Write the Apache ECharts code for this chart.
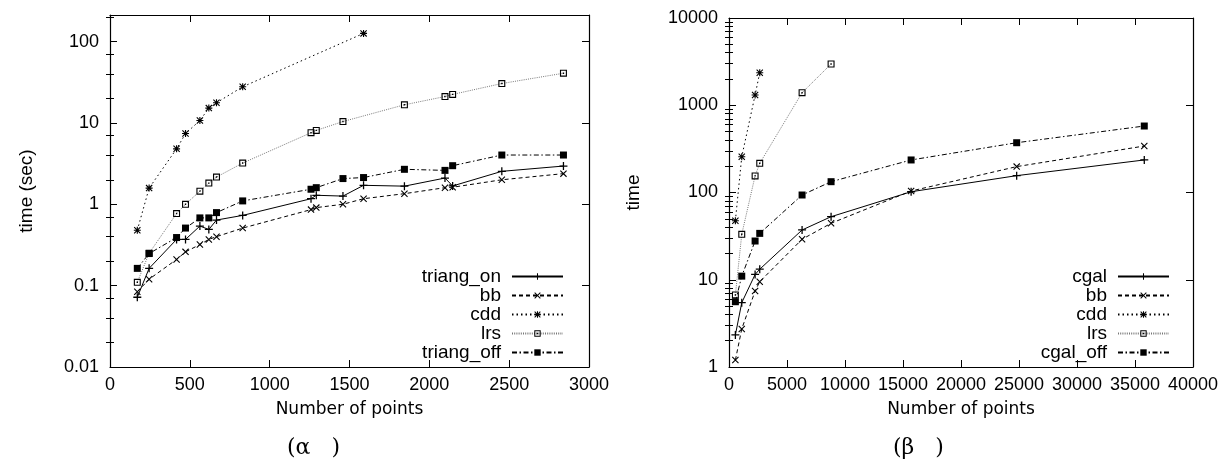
<!DOCTYPE html>
<html><head><meta charset="utf-8">
<script src="https://cdn.jsdelivr.net/npm/echarts@6/dist/echarts.min.js"></script>
<style>html,body{margin:0;padding:0;background:#fff}#c{width:1230px;height:473px}</style>
</head><body><div id="c"></div>
<script>
// ---------- data: chart (a) ----------
const xA = [171,245,417,473,563,619,667,831,1259,1292,1459,1588,1844,2098,2146,2454,2840];
const triangOnA = [0.072,0.163,0.37,0.37,0.54,0.49,0.64,0.73,1.17,1.29,1.26,1.71,1.67,2.10,1.68,2.54,2.95];
const bbA = [0.084,0.12,0.21,0.26,0.32,0.37,0.40,0.51,0.86,0.91,1.0,1.17,1.35,1.60,1.62,2.0,2.38];
const triangOffA = [0.163,0.248,0.39,0.51,0.68,0.68,0.79,1.10,1.53,1.60,2.07,2.13,2.69,2.61,2.98,4.03,4.03];
const xCddA = [171,245,417,473,563,619,667,831,1588];
const cddA = [0.48,1.58,4.8,7.4,10.7,15.2,17.7,27.8,126];
const xLrsA = [171,245,417,473,563,619,667,831,1259,1292,1459,1844,2098,2146,2454,2840];
const lrsA = [0.11,0.25,0.77,1.0,1.45,1.82,2.16,3.21,7.58,8.09,10.4,16.7,21.1,22.4,30.5,40.8];
const namesA = ['triang_on','bb','cdd','lrs','triang_off'];
const xLabelsA = ['0','500','1000','1500','2000','2500','3000'];
const yLabelsA = ['0.01','0.1','1','10','100'];
const minorStepsA = [2,4,7];

// ---------- data: chart (b) ----------
const xB = [550,1100,2250,2650,6300,8800,15700,24800,35800];
const cgalB = [2.33,5.46,11.5,13.2,37.2,52.8,102,156,236];
const bbB = [1.2,2.73,7.43,9.5,29.1,44.4,104,198,341];
const cgalOffB = [5.6,11.0,27.8,34,93.6,133,236,372,578];
const xCddB = [550,1100,2250,2650];
const cddB = [47.5,257,1310,2360];
const xLrsB = [550,1100,2250,2650,6300,8800];
const lrsB = [6.69,33.2,155,216,1393,2970];
const namesB = ['cgal','bb','cdd','lrs','cgal_off'];
const xLabelsB = ['0','5000','10000','15000','20000','25000','30000','35000','40000'];
const yLabelsB = ['1','10','100','1000','10000'];
const minorStepsB = [2,3,4,5,6,7,8,9];

// ---------- styling ----------
const SYM = {
  plus: 'path://M0,4.2H10V5.8H0Z M4.2,0H5.8V10H4.2Z',
  cross: 'path://M0,1.1L1.1,0L10,8.9L8.9,10Z M8.9,0L10,1.1L1.1,10L0,8.9Z',
  star: 'path://M0,4.2H10V5.8H0Z M4.2,0H5.8V10H4.2Z M0,1.1L1.1,0L10,8.9L8.9,10Z M8.9,0L10,1.1L1.1,10L0,8.9Z',
  box: 'path://M0,0H10V10H0Z M1.6,1.6V8.4H8.4V1.6Z M4,4H6V6H4Z',
  fill: 'rect'
};
const STY = {
  solid:   {sym: SYM.plus,  size: 8, dash: 'solid',     color: '#000'},
  dashed:  {sym: SYM.cross, size: 7, dash: [4,3],       color: '#000'},
  dotted:  {sym: SYM.star,  size: 7, dash: [1.5,3],     color: '#000'},
  fine:    {sym: SYM.box,   size: 7, dash: [1,1.2],     color: '#777'},
  dashdot: {sym: SYM.fill,  size: 7, dash: [5,2.5,1.5,2.5], color: '#000'}
};
const FONT = 'Liberation Sans';

function ser(name, xs, ys, st, xi, yi) {
  return {
    type: 'line', name: name, xAxisIndex: xi, yAxisIndex: yi,
    data: xs.map((v, i) => [v, ys[i]]),
    symbol: st.sym, symbolSize: st.size, showSymbol: true, showAllSymbol: true,
    itemStyle: {color: '#000'},
    lineStyle: {color: st.color, width: 1, type: st.dash},
    silent: true, animation: false, emphasis: {disabled: true}
  };
}

function logTicks(minExp, maxExp, steps) {
  const out = [];
  for (let e = minExp; e <= maxExp; e++) steps.forEach(s => out.push(Math.log10(s) + e));
  return out;
}

const maxA = 212, maxB = 10000;
const axisLine = {show: true, onZero: false, lineStyle: {color: '#000', width: 1.2}};
const tickMajor = {show: true, inside: true, length: 7, lineStyle: {color: '#000', width: 1}};
const labelStyle = {color: '#000', fontFamily: FONT, fontSize: 18};

function labFmt(labels) {
  return v => {
    const s = labels.find(l => Math.abs(parseFloat(l) - v) < 1e-9 * Math.max(1, Math.abs(v)));
    return s || '';
  };
}

function xAxes(grid, max, interval, labels) {
  return [
    {type: 'value', gridIndex: grid, min: 0, max: max, interval: interval, position: 'bottom',
     axisLine: axisLine, axisTick: tickMajor, splitLine: {show: false},
     axisLabel: Object.assign({margin: 9, formatter: labFmt(labels)}, labelStyle),
     name: 'Number of points', nameLocation: 'middle', nameGap: 34,
     nameTextStyle: {color: '#000', fontFamily: 'DejaVu Sans', fontSize: 17}},
    {type: 'value', gridIndex: grid, min: 0, max: max, interval: interval, position: 'top',
     axisLine: axisLine, axisTick: tickMajor, splitLine: {show: false}, axisLabel: {show: false}}
  ];
}

function yAxes(grid, min, max, labels, minor, name, nameGap) {
  const lmin = Math.log10(min), lmax = Math.log10(max);
  const minorVals = logTicks(Math.round(lmin), Math.ceil(lmax), minor).filter(v => v > lmin && v < lmax);
  const minorAxis = pos => ({type: 'value', gridIndex: grid, min: lmin, max: lmax, position: pos,
     axisLine: {show: false}, axisLabel: {show: false}, splitLine: {show: false},
     axisTick: {show: true, inside: true, length: 4, customValues: minorVals, lineStyle: {color: '#000', width: 1}}});
  return [
    {type: 'log', logBase: 10, gridIndex: grid, min: min, max: max, position: 'left',
     axisLine: axisLine, axisTick: tickMajor, splitLine: {show: false},
     axisLabel: Object.assign({margin: 11, formatter: labFmt(labels)}, labelStyle),
     name: name, nameLocation: 'middle', nameRotate: 90, nameGap: nameGap,
     nameTextStyle: {color: '#000', fontFamily: FONT, fontSize: 19}},
    {type: 'log', logBase: 10, gridIndex: grid, min: min, max: max, position: 'right',
     axisLine: axisLine, axisTick: tickMajor, splitLine: {show: false}, axisLabel: {show: false}},
    minorAxis('left'), minorAxis('right')
  ];
}

function legend(names, right) {
  return {
    data: names, orient: 'vertical', align: 'right', right: right, top: 267,
    itemWidth: 51, itemHeight: 8, itemGap: 0, padding: 0, selectedMode: false,
    textStyle: {color: '#000', fontFamily: FONT, fontSize: 19, lineHeight: 19, padding: [0, 6, 0, 0]}
  };
}

const chart = echarts.init(document.getElementById('c'), null, {renderer: 'canvas'});
chart.setOption({
  animation: false,
  backgroundColor: '#fff',
  grid: [
    {left: 110, top: 15, width: 479, height: 352, outerBoundsMode: 'none'},
    {left: 729, top: 18, width: 464, height: 349, outerBoundsMode: 'none'}
  ],
  xAxis: [].concat(xAxes(0, 3000, 500, xLabelsA), xAxes(1, 40000, 5000, xLabelsB)),
  yAxis: [].concat(
    yAxes(0, 0.01, maxA, yLabelsA, minorStepsA, 'time (sec)', 74),
    yAxes(1, 1, maxB, yLabelsB, minorStepsB, 'time', 86)
  ),
  legend: [legend(namesA, 666), legend(namesB, 60)],
  series: [
    ser(namesA[0], xA, triangOnA, STY.solid, 0, 0),
    ser(namesA[1], xA, bbA, STY.dashed, 0, 0),
    ser(namesA[2], xCddA, cddA, STY.dotted, 0, 0),
    ser(namesA[3], xLrsA, lrsA, STY.fine, 0, 0),
    ser(namesA[4], xA, triangOffA, STY.dashdot, 0, 0),
    ser(namesB[0], xB, cgalB, STY.solid, 2, 4),
    ser(namesB[1], xB, bbB, STY.dashed, 2, 4),
    ser(namesB[2], xCddB, cddB, STY.dotted, 2, 4),
    ser(namesB[3], xLrsB, lrsB, STY.fine, 2, 4),
    ser(namesB[4], xB, cgalOffB, STY.dashdot, 2, 4)
  ],
  graphic: [
    {type: 'text', left: 287, top: 437, style: {text: '(α   )', fill: '#000', font: '22px "DejaVu Serif"'}},
    {type: 'text', left: 893, top: 437, style: {text: '(β   )', fill: '#000', font: '22px "DejaVu Serif"'}}
  ]
});
</script>
</body></html>
